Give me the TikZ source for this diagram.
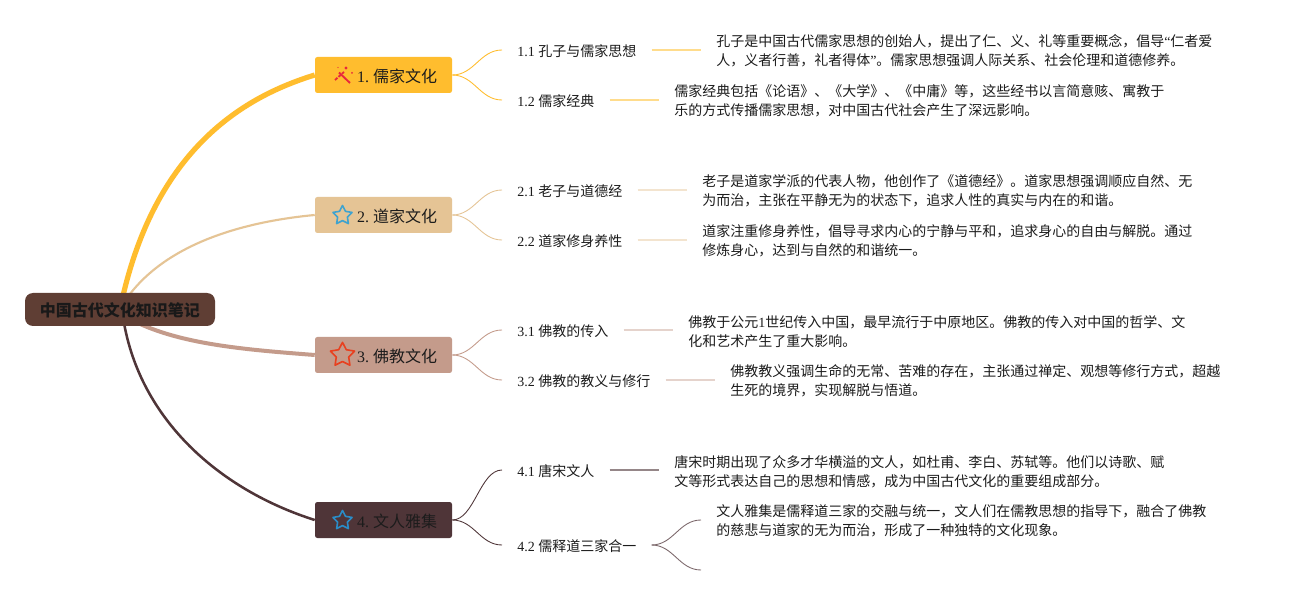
\documentclass[tikz,border=0pt]{standalone}
\usepackage{fontspec}
\usetikzlibrary{shapes.geometric,backgrounds}
\setmainfont{Noto Sans CJK SC}
\newfontfamily\latf{Liberation Serif}
\newcommand{\lt}[1]{{\latf #1}}
\definecolor{rootc}{HTML}{5F3E34}
\definecolor{ca}{HTML}{FFBD2E}
\definecolor{cb}{HTML}{E5C495}
\definecolor{cc}{HTML}{C49B8B}
\definecolor{cd}{HTML}{4F3538}
\definecolor{la}{HTML}{FFDC8C}
\definecolor{lb}{HTML}{F3E4CF}
\definecolor{lc}{HTML}{E5D3CC}
\definecolor{ld}{HTML}{958688}
\definecolor{txt}{HTML}{1C1C1C}
\definecolor{stara}{HTML}{3FA3CF}
\definecolor{starb}{HTML}{E8401F}
\definecolor{starc}{HTML}{2A8CC7}
\definecolor{wand}{HTML}{E8283C}
\tikzset{
 x=0.75pt,y=-0.75pt,
 rootbox/.style={rectangle,rounded corners=6pt,fill=rootc,minimum width=142.5pt,minimum height=24.75pt,inner sep=0pt,text=black!90,font=\fontsize{12}{14}\selectfont\bfseries,text height=11.5pt,text depth=0.9pt},
 topicbox/.style={rectangle,rounded corners=1.8pt,fill=#1,minimum width=102.75pt,minimum height=27pt,inner xsep=11.25pt,inner ysep=0pt,text width=80.25pt,align=right,text=txt,font=\fontsize{12}{14}\selectfont,text height=12pt,text depth=0.9pt},
 sublabel/.style={anchor=west,inner xsep=11.25pt,inner ysep=0pt,text=txt,font=\fontsize{10.5}{14}\selectfont,text height=10pt,text depth=0.9pt},
 detailtext/.style={anchor=west,inner xsep=11.25pt,inner ysep=0pt,align=left,text=txt,font=\fontsize{10.5}{14.25}\selectfont},
 iconstar/.style={star,star points=5,star point ratio=1.95,draw=#1,line width=1.2pt,line join=round,fill=none,inner sep=0pt},
 mainline/.style={draw=#1,line cap=butt},
 subline/.style={draw=#1,line width=0.65pt},
 stemline/.style={draw=#1,line width=1.8pt},
}
\begin{document}
\begin{tikzpicture}
\useasboundingbox (0,0) rectangle (1290,595);

% nodes
\node[rootbox] (root) at (120,309.5) {中国古代文化知识笔记};
\coordinate (ra) at (122.5,298);
\coordinate (rb) at (127,298);
\coordinate (rc) at (138,323);
\coordinate (rd) at (123.5,320);

\node[topicbox=ca] (t1) at (383.5,75) {\mbox{\lt{1.\kern3pt}儒家文化}};
\node[topicbox=cb] (t2) at (383.5,215) {\mbox{\lt{2.\kern3pt}道家文化}};
\node[topicbox=cc] (t3) at (383.5,355) {\mbox{\lt{3.\kern3pt}佛教文化}};
\node[topicbox=cd] (t4) at (383.5,520) {\mbox{\lt{4.\kern3pt}文人雅集}};

\node[iconstar=stara, minimum size=15pt] (s2) at (342.5,215.5) {};
\node[iconstar=starb, minimum size=19pt] (s3) at (342.5,355) {};
\node[iconstar=starc, minimum size=15pt] (s4) at (342.5,520.5) {};

% wand icon
\draw[wand,line width=1.4pt] (339,72.5) -- (350,83);
\draw[wand,line width=1.4pt,dash pattern=on 2.5pt off 1pt] (335,80) -- (344,72);
\fill[wand] (346,68) circle (1.6);
\fill[wand] (352,73) circle (1);
\fill[wand] (338,67.5) circle (0.7);

\node[sublabel] (s11) at (502,50) {\lt{1.1 }孔子与儒家思想};
\node[sublabel] (s12) at (502,100) {\lt{1.2 }儒家经典};
\node[sublabel] (s21) at (502,190) {\lt{2.1 }老子与道德经};
\node[sublabel] (s22) at (502,240) {\lt{2.2 }道家修身养性};
\node[sublabel] (s31) at (502,330) {\lt{3.1 }佛教的传入};
\node[sublabel] (s32) at (502,380) {\lt{3.2 }佛教的教义与修行};
\node[sublabel] (s41) at (502,470) {\lt{4.1 }唐宋文人};
\node[sublabel] (s42) at (502,545) {\lt{4.2 }儒释道三家合一};

\node[detailtext] (d11) at (701,51) {孔子是中国古代儒家思想的创始人，提出了仁、义、礼等重要概念，倡导\lt{“}仁者爱\\人，义者行善，礼者得体\lt{”}。儒家思想强调人际关系、社会伦理和道德修养。};
\node[detailtext] (d12) at (659,101) {儒家经典包括《论语》、《大学》、《中庸》等，这些经书以言简意赅、寓教于\\乐的方式传播儒家思想，对中国古代社会产生了深远影响。};
\node[detailtext] (d21) at (687,191) {老子是道家学派的代表人物，他创作了《道德经》。道家思想强调顺应自然、无\\为而治，主张在平静无为的状态下，追求人性的真实与内在的和谐。};
\node[detailtext] (d22) at (687,241) {道家注重修身养性，倡导寻求内心的宁静与平和，追求身心的自由与解脱。通过\\修炼身心，达到与自然的和谐统一。};
\node[detailtext] (d31) at (673,331.5) {佛教于公元\lt{1}世纪传入中国，最早流行于中原地区。佛教的传入对中国的哲学、文\\化和艺术产生了重大影响。};
\node[detailtext] (d32) at (715,381) {佛教教义强调生命的无常、苦难的存在，主张通过禅定、观想等修行方式，超越\\生死的境界，实现解脱与悟道。};
\node[detailtext] (d41) at (659,471.5) {唐宋时期出现了众多才华横溢的文人，如杜甫、李白、苏轼等。他们以诗歌、赋\\文等形式表达自己的思想和情感，成为中国古代文化的重要组成部分。};
\node[detailtext] (d42) at (701,521) {文人雅集是儒释道三家的交融与统一，文人们在儒教思想的指导下，融合了佛教\\的慈悲与道家的无为而治，形成了一种独特的文化现象。};
\coordinate (e42a) at (701,520);
\coordinate (e42b) at (701,570);

\begin{pgfonlayer}{background}
\fill[white] (0,0) rectangle (1290,595);
% main connectors
\draw[mainline=ca,line width=3.9pt] (ra) .. controls (158,143) and (250,95) .. (t1.west);
\draw[mainline=cb,line width=1.6pt] (rb) .. controls (165,245) and (240,222) .. (t2.west);
\draw[mainline=cc,line width=3pt] (rc) .. controls (185,345) and (250,350) .. (t3.west);
\draw[mainline=cd,line width=1.9pt] (rd) .. controls (140,420) and (220,490) .. (t4.west);

% sub connectors
\foreach \t/\a/\b/\c in {t1/s11/s12/ca,t2/s21/s22/cb,t3/s31/s32/cc,t4/s41/s42/cd}{
 \draw[subline=\c] (\t.east) .. controls +(22,0) and +(-22,0) .. (\a.west);
 \draw[subline=\c] (\t.east) .. controls +(22,0) and +(-22,0) .. (\b.west);
}
\draw[subline=cd!75!white] (s42.east) .. controls +(22,0) and +(-22,0) .. (e42a);
\draw[subline=cd!75!white] (s42.east) .. controls +(22,0) and +(-22,0) .. (e42b);

% stems
\foreach \a/\b/\c in {s11/d11/la,s12/d12/la,s21/d21/lb,s22/d22/lb,s31/d31/lc,s32/d32/lc,s41/d41/ld}{
 \draw[stemline=\c] (\a.east) -- (\a.east -| \b.west);
}
\end{pgfonlayer}
\end{tikzpicture}
\end{document}
